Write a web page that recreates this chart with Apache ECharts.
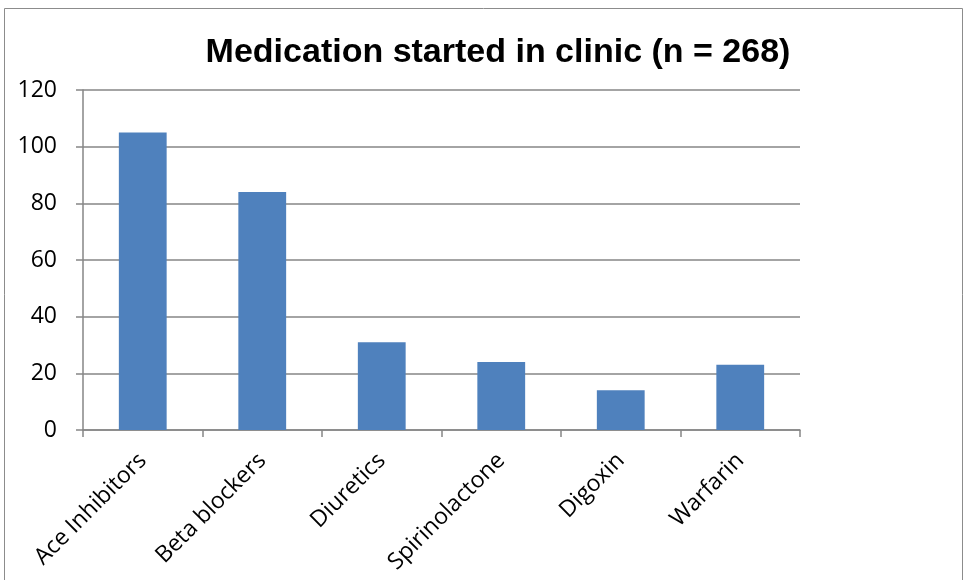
<!DOCTYPE html>
<html>
<head>
<meta charset="utf-8">
<script src="https://cdn.jsdelivr.net/npm/echarts@6/dist/echarts.min.js"></script>
<style>
  html, body { margin: 0; padding: 0; background: #fff; }
  #chart { width: 965px; height: 580px; }
</style>
</head>
<body>
<div id="chart"></div>
<script>
  var categories = ['Ace Inhibitors', 'Beta blockers', 'Diuretics', 'Spirinolactone', 'Digoxin', 'Warfarin'];
  var counts = [105, 84, 31, 24, 14, 23];
  var titleText = 'Medication started in clinic (n = 268)';

  var chart = echarts.init(document.getElementById('chart'));
  chart.setOption({
    animation: false,
    backgroundColor: '#fff',
    graphic: [{
      type: 'rect',
      shape: { x: 4.5, y: 8.5, width: 958, height: 600 },
      style: { fill: 'none', stroke: '#8c8c8c', lineWidth: 1 },
      silent: true
    }],
    title: {
      text: titleText,
      left: 493,
      textAlign: 'center',
      top: 31,
      textStyle: {
        fontFamily: 'Liberation Sans',
        fontWeight: 'bold',
        fontSize: 34,
        color: '#000'
      }
    },
    grid: {
      left: 83,
      right: 165,
      top: 90,
      bottom: 150
    },
    xAxis: {
      type: 'category',
      data: categories,
      boundaryGap: true,
      axisLine: { lineStyle: { color: '#868686', width: 1.5 } },
      axisTick: { show: true, length: 7, lineStyle: { color: '#868686', width: 1.5 } },
      axisLabel: {
        rotate: 45,
        interval: 0,
        margin: 27,
        fontFamily: 'Open Sans',
        fontSize: 23,
        color: '#000'
      }
    },
    yAxis: {
      type: 'value',
      min: 0,
      max: 120,
      interval: 20,
      axisLine: { show: true, lineStyle: { color: '#868686', width: 1.5 } },
      axisTick: { show: true, length: 7, lineStyle: { color: '#868686', width: 1.5 } },
      splitLine: { lineStyle: { color: '#868686', width: 1.5 } },
      axisLabel: {
        margin: 26,
        fontFamily: 'Open Sans',
        fontSize: 23,
        color: '#000'
      }
    },
    series: [{
      name: 'Medication',
      type: 'bar',
      data: counts,
      barWidth: '40%',
      itemStyle: { color: '#4F81BD' }
    }]
  });
</script>
</body>
</html>
